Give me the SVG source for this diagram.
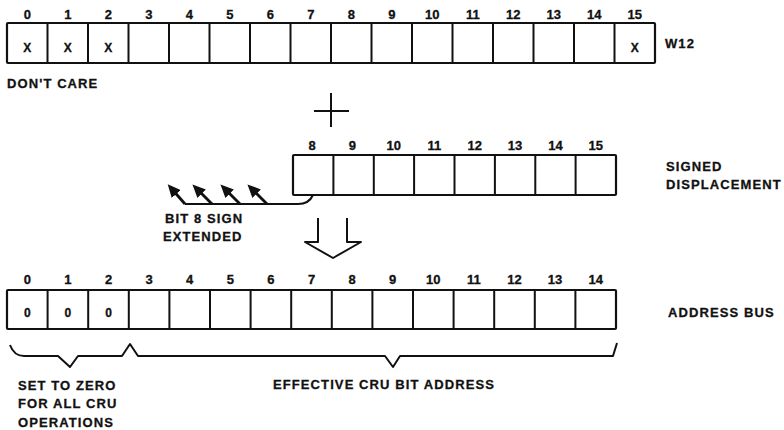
<svg xmlns="http://www.w3.org/2000/svg" width="784" height="430" viewBox="0 0 784 430">
<defs>
<style>
text{font-family:"Liberation Sans",Arial,sans-serif;font-weight:bold;fill:#111;stroke:#111;stroke-width:0.3;}
.n{font-size:13px;text-anchor:middle;}
.v{font-size:12px;text-anchor:middle;}
.l{font-size:13px;letter-spacing:1.1px;}
.box{fill:#fff;stroke:#111;stroke-width:2.2;}
.div{stroke:#111;stroke-width:2;fill:none;}
.ln{stroke:#111;stroke-width:2;fill:none;stroke-linejoin:round;}
.ar{stroke:#111;stroke-width:2.8;fill:none;}
</style>
<marker id="ah" markerWidth="13" markerHeight="12" refX="8" refY="6" orient="auto" markerUnits="userSpaceOnUse" viewBox="0 0 13 12">
<path d="M0,0 L13,6 L0,12 Z" fill="#111"/>
</marker>
</defs>
<rect width="784" height="430" fill="#fff"/>

<g id="w12">
<rect class="box" x="7" y="23" width="648" height="40" rx="1"/>
<path class="div" d="M47.5,23V63M88,23V63M128.5,23V63M169,23V63M209.5,23V63M250,23V63M290.5,23V63M331,23V63M371.5,23V63M412,23V63M452.5,23V63M493,23V63M533.5,23V63M574,23V63M614.5,23V63"/>
<text class="n" x="27.3" y="18.5">0</text>
<text class="n" x="67.8" y="18.5">1</text>
<text class="n" x="108.3" y="18.5">2</text>
<text class="n" x="148.8" y="18.5">3</text>
<text class="n" x="189.3" y="18.5">4</text>
<text class="n" x="229.8" y="18.5">5</text>
<text class="n" x="270.3" y="18.5">6</text>
<text class="n" x="310.8" y="18.5">7</text>
<text class="n" x="351.3" y="18.5">8</text>
<text class="n" x="391.8" y="18.5">9</text>
<text class="n" x="432.3" y="18.5">10</text>
<text class="n" x="472.8" y="18.5">11</text>
<text class="n" x="513.3" y="18.5">12</text>
<text class="n" x="553.8" y="18.5">13</text>
<text class="n" x="594.3" y="18.5">14</text>
<text class="n" x="634.8" y="18.5">15</text>
<text class="v" x="27.3" y="52">X</text>
<text class="v" x="67.8" y="52">X</text>
<text class="v" x="108.3" y="52">X</text>
<text class="v" x="634.8" y="52">X</text>
<text class="l" x="665" y="48">W12</text>
<text class="l" x="7" y="88">DON'T CARE</text>
</g>

<g id="plus">
<path class="ln" d="M331,93V127M314,111H349"/>
</g>

<g id="displacement">
<rect class="box" x="293" y="155" width="323" height="40" rx="1"/>
<path class="div" d="M333.4,155V195M373.8,155V195M414.1,155V195M454.5,155V195M494.9,155V195M535.3,155V195M575.6,155V195"/>
<text class="n" x="312" y="150">8</text>
<text class="n" x="352.4" y="150">9</text>
<text class="n" x="393.8" y="150">10</text>
<text class="n" x="434.3" y="150">11</text>
<text class="n" x="474.7" y="150">12</text>
<text class="n" x="515.1" y="150">13</text>
<text class="n" x="555.5" y="150">14</text>
<text class="n" x="595.8" y="150">15</text>
<text class="l" x="666" y="171">SIGNED</text>
<text class="l" x="666" y="189">DISPLACEMENT</text>
</g>

<g id="address-bus">
<rect class="box" x="7" y="290" width="609" height="39" rx="1"/>
<path class="div" d="M47.6,290V329M88.2,290V329M128.8,290V329M169.4,290V329M210,290V329M250.6,290V329M291.2,290V329M331.8,290V329M372.4,290V329M413,290V329M453.6,290V329M494.2,290V329M534.8,290V329M575.4,290V329"/>
<text class="n" x="27.3" y="283.5">0</text>
<text class="n" x="67.9" y="283.5">1</text>
<text class="n" x="108.5" y="283.5">2</text>
<text class="n" x="149.1" y="283.5">3</text>
<text class="n" x="189.7" y="283.5">4</text>
<text class="n" x="230.3" y="283.5">5</text>
<text class="n" x="270.9" y="283.5">6</text>
<text class="n" x="311.5" y="283.5">7</text>
<text class="n" x="352.1" y="283.5">8</text>
<text class="n" x="392.7" y="283.5">9</text>
<text class="n" x="433.3" y="283.5">10</text>
<text class="n" x="473.9" y="283.5">11</text>
<text class="n" x="514.5" y="283.5">12</text>
<text class="n" x="555.1" y="283.5">13</text>
<text class="n" x="595.7" y="283.5">14</text>
<text class="v" x="27.3" y="317">0</text>
<text class="v" x="67.9" y="317">0</text>
<text class="v" x="108.5" y="317">0</text>
<text class="l" x="668" y="317">ADDRESS BUS</text>
</g>

<g id="sign-extend-label">
<text class="l" x="165" y="223">BIT 8 SIGN</text>
<text class="l" x="163" y="241">EXTENDED</text>
</g>

<g id="zero-label">
<text class="l" x="18" y="390">SET TO ZERO</text>
<text class="l" x="18" y="408">FOR ALL CRU</text>
<text class="l" x="18" y="427">OPERATIONS</text>
</g>

<g id="effective-label">
<text class="l" x="273" y="389">EFFECTIVE CRU BIT ADDRESS</text>
</g>

<g id="connectors">
<path class="ln" d="M313,195 Q309,204 298,204 H185"/>
<path class="ar" d="M185,204 L171,188" marker-end="url(#ah)"/>
<path class="ar" d="M212,204 L196,188" marker-end="url(#ah)"/>
<path class="ar" d="M240,204 L224,188" marker-end="url(#ah)"/>
<path class="ar" d="M267,204 L251,188" marker-end="url(#ah)"/>
<path class="ln" d="M318,218 V242 H305 L333,258 L361,242 H347 V218"/>
<path class="ln" d="M10,345 Q14,356 24,356 H58 L70,367 L78,356 H122 L130,344 L138,356 H385 L393,367 L400,356 H613 L617,343"/>
</g>
</svg>
